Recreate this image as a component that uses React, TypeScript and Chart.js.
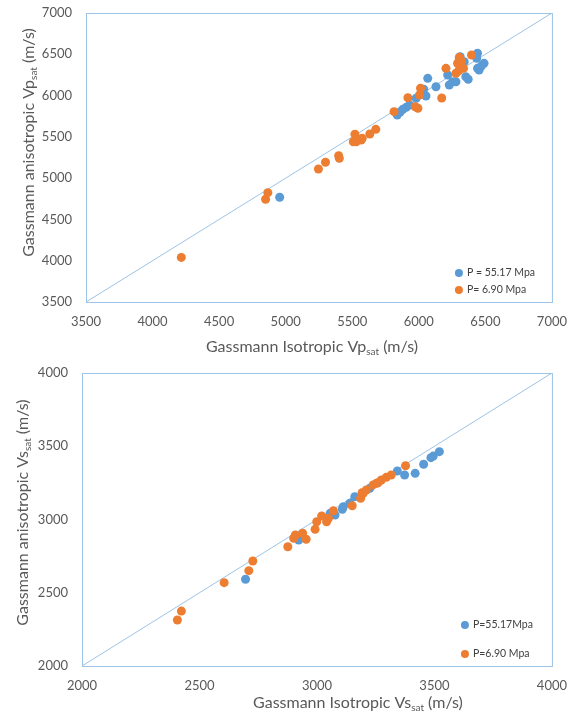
import React, { useEffect, useRef } from "react";
import { Chart, registerables } from "chart.js";
Chart.register(...registerables);

// ---------- DATA ----------
const vpTicks = [3500, 4000, 4500, 5000, 5500, 6000, 6500, 7000];
const vsTicks = [2000, 2500, 3000, 3500, 4000];

const vpHighX = [4955, 5838, 5881, 5906, 5931, 5980, 6037, 6054, 6067, 6129, 6217, 6229, 6254, 6279, 6311, 6341, 6353, 6371, 6435, 6441, 6441, 6453, 6470, 6490, 5860, 6300];
const vpHighY = [4768, 5765, 5834, 5858, 5886, 5967, 6076, 5995, 6209, 6107, 6249, 6128, 6168, 6168, 6471, 6410, 6228, 6197, 6451, 6512, 6330, 6310, 6358, 6390, 5800, 6400];

const vpLowX = [4216, 4849, 4866, 5246, 5299, 5398, 5403, 5508, 5520, 5530, 5567, 5575, 5632, 5677, 5814, 5918, 5973, 5993, 6005, 6013, 6172, 6204, 6279, 6291, 6304, 6316, 6336, 6396, 6320, 6300];
const vpLowY = [4040, 4744, 4824, 5111, 5192, 5272, 5240, 5441, 5531, 5441, 5462, 5482, 5534, 5591, 5805, 5974, 5865, 5846, 6007, 6088, 5970, 6330, 6270, 6390, 6463, 6370, 6330, 6491, 6420, 6300];

const vsHighX = [2696, 2922, 3056, 3077, 3108, 3112, 3140, 3161, 3225, 3342, 3373, 3418, 3454, 3485, 3495, 3521];
const vsHighY = [2592, 2860, 3042, 3031, 3070, 3087, 3111, 3156, 3213, 3331, 3304, 3315, 3377, 3422, 3433, 3463];

const vsLowX = [2406, 2423, 2605, 2710, 2727, 2876, 2901, 2908, 2939, 2954, 2992, 2999, 3020, 3041, 3049, 3070, 3150, 3186, 3192, 3197, 3210, 3239, 3253, 3260, 3274, 3295, 3316, 3377];
const vsLowY = [2314, 2375, 2569, 2651, 2717, 2814, 2872, 2894, 2906, 2865, 2933, 2985, 3024, 2985, 3008, 3060, 3094, 3145, 3183, 3179, 3201, 3236, 3247, 3251, 3270, 3288, 3304, 3367];

const vpLegend = ["P = 55.17 Mpa", "P= 6.90 Mpa"];
const vsLegend = ["P=55.17Mpa", "P=6.90 Mpa"];

// ---------- STYLE ----------
const BLUE = "#5B9BD5";
const ORANGE = "#ED7D31";
const LINE = "#9DC3E6";
const TEXT = "#595959";
const FONT = "Lato, 'Open Sans', sans-serif";

const pts = (xs: number[], ys: number[]) => xs.map((x, i) => ({ x, y: ys[i] }));

type Part = { t: string; sub?: boolean };

function drawRich(ctx: CanvasRenderingContext2D, parts: Part[], cx: number, cy: number, rot: number) {
  ctx.save();
  ctx.translate(cx, cy);
  ctx.rotate(rot);
  ctx.fillStyle = TEXT;
  ctx.textBaseline = "middle";
  ctx.textAlign = "left";
  const mainF = `16px ${FONT}`;
  const subF = `10px ${FONT}`;
  let w = 0;
  for (const p of parts) {
    ctx.font = p.sub ? subF : mainF;
    w += ctx.measureText(p.t).width;
  }
  let x = -w / 2;
  for (const p of parts) {
    ctx.font = p.sub ? subF : mainF;
    ctx.fillText(p.t, x, p.sub ? 5 : 0);
    x += ctx.measureText(p.t).width;
  }
  ctx.restore();
}

interface Cfg {
  ticks: number[];
  high: { x: number; y: number }[];
  low: { x: number; y: number }[];
  legend: string[];
  yWidth: number;
  xHeight: number;
  padTop: number;
  xTitle: Part[];
  yTitle: Part[];
  xTitlePos: [number, number];
  yTitlePos: [number, number];
  legendPos: [number, number, number];
}

function ScatterChart({ cfg, height }: { cfg: Cfg; height: number }) {
  const ref = useRef<HTMLCanvasElement>(null);
  useEffect(() => {
    const min = cfg.ticks[0];
    const max = cfg.ticks[cfg.ticks.length - 1];
    const deco = {
      id: "deco",
      beforeDatasetsDraw(chart: any) {
        const { ctx, chartArea: a } = chart;
        ctx.save();
        ctx.strokeStyle = LINE;
        ctx.lineWidth = 1;
        ctx.strokeRect(a.left + 0.5, a.top + 0.5, a.right - a.left, a.bottom - a.top);
        ctx.restore();
      },
      afterDraw(chart: any) {
        const { ctx, chartArea: a } = chart;
        const cx = (a.left + a.right) / 2;
        const cy = (a.top + a.bottom) / 2;
        drawRich(ctx, cfg.xTitle, cx + cfg.xTitlePos[0], a.bottom + cfg.xTitlePos[1], 0);
        drawRich(ctx, cfg.yTitle, a.left + cfg.yTitlePos[0], cy + cfg.yTitlePos[1], -Math.PI / 2);
        const [dxOff, y1, y2] = cfg.legendPos;
        const cols = [BLUE, ORANGE];
        const ys = [a.bottom - y1, a.bottom - y2];
        ctx.save();
        ctx.font = `10.5px ${FONT}`;
        ctx.textBaseline = "middle";
        ctx.textAlign = "left";
        cfg.legend.forEach((label, i) => {
          ctx.fillStyle = cols[i];
          ctx.beginPath();
          ctx.arc(a.right - dxOff, ys[i], 4, 0, Math.PI * 2);
          ctx.fill();
          ctx.fillStyle = "#404040";
          ctx.fillText(label, a.right - dxOff + 8, ys[i]);
        });
        ctx.restore();
      },
    };
    const chart = new Chart(ref.current!, {
      type: "scatter",
      data: {
        datasets: [
          {
            label: cfg.legend[1],
            data: cfg.low,
            backgroundColor: ORANGE,
            borderColor: ORANGE,
            pointRadius: 4.5,
            borderWidth: 0,
            order: 0,
          },
          {
            label: cfg.legend[0],
            data: cfg.high,
            backgroundColor: BLUE,
            borderColor: BLUE,
            pointRadius: 4.5,
            borderWidth: 0,
            order: 1,
          },
          {
            label: "1:1",
            data: [
              { x: min, y: min },
              { x: max, y: max },
            ],
            showLine: true,
            borderColor: LINE,
            borderWidth: 1,
            pointRadius: 0,
            order: 2,
          },
        ],
      },
      options: {
        responsive: false,
        animation: false,
        layout: { padding: { left: 0, right: 24, top: cfg.padTop, bottom: 0 } },
        plugins: { legend: { display: false }, tooltip: { enabled: false } },
        scales: {
          x: {
            type: "linear",
            min,
            max,
            grid: { display: false, drawTicks: false },
            border: { display: false },
            afterBuildTicks: (s: any) => {
              s.ticks = cfg.ticks.map((v) => ({ value: v }));
            },
            afterFit: (s: any) => {
              s.height = cfg.xHeight;
            },
            ticks: {
              color: TEXT,
              font: { family: FONT, size: 13 },
              padding: 12,
              maxRotation: 0,
              callback: (v: any) => String(v),
            },
          },
          y: {
            type: "linear",
            min,
            max,
            grid: {
              display: true,
              drawOnChartArea: false,
              drawTicks: true,
              tickLength: 14,
              color: "rgba(0,0,0,0)",
            },
            border: { display: false },
            afterBuildTicks: (s: any) => {
              s.ticks = cfg.ticks.map((v) => ({ value: v }));
            },
            afterFit: (s: any) => {
              s.width = cfg.yWidth;
            },
            ticks: {
              color: TEXT,
              font: { family: FONT, size: 13 },
              padding: 0,
              callback: (v: any) => String(v),
            },
          },
        },
      },
      plugins: [deco],
    } as any);
    return () => chart.destroy();
  }, [cfg]);
  return <canvas ref={ref} width={579} height={height} style={{ display: "block", width: 579, height }} />;
}

const topCfg: Cfg = {
  ticks: vpTicks,
  high: pts(vpHighX, vpHighY),
  low: pts(vpLowX, vpLowY),
  legend: vpLegend,
  yWidth: 86,
  xHeight: 60,
  padTop: 13,
  xTitle: [{ t: "Gassmann Isotropic Vp" }, { t: "sat", sub: true }, { t: " (m/s)" }],
  yTitle: [{ t: "Gassmann anisotropic Vp" }, { t: "sat", sub: true }, { t: " (m/s)" }],
  xTitlePos: [-7, 45],
  yTitlePos: [-57, -15],
  legendPos: [93, 29, 12],
};

const bottomCfg: Cfg = {
  ticks: vsTicks,
  high: pts(vsHighX, vsHighY),
  low: pts(vsLowX, vsLowY),
  legend: vsLegend,
  yWidth: 82,
  xHeight: 59,
  padTop: 11,
  xTitle: [{ t: "Gassmann Isotropic Vs" }, { t: "sat", sub: true }, { t: " (m/s)" }],
  yTitle: [{ t: "Gassmann anisotropic Vs" }, { t: "sat", sub: true }, { t: " (m/s)" }],
  xTitlePos: [41, 37],
  yTitlePos: [-59, -7],
  legendPos: [87, 41, 12],
};

export default function App() {
  return (
    <div style={{ position: "absolute", left: 0, top: 0, width: 579, height: 725, background: "#fff" }}>
      <ScatterChart cfg={topCfg} height={362} />
      <ScatterChart cfg={bottomCfg} height={363} />
    </div>
  );
}
